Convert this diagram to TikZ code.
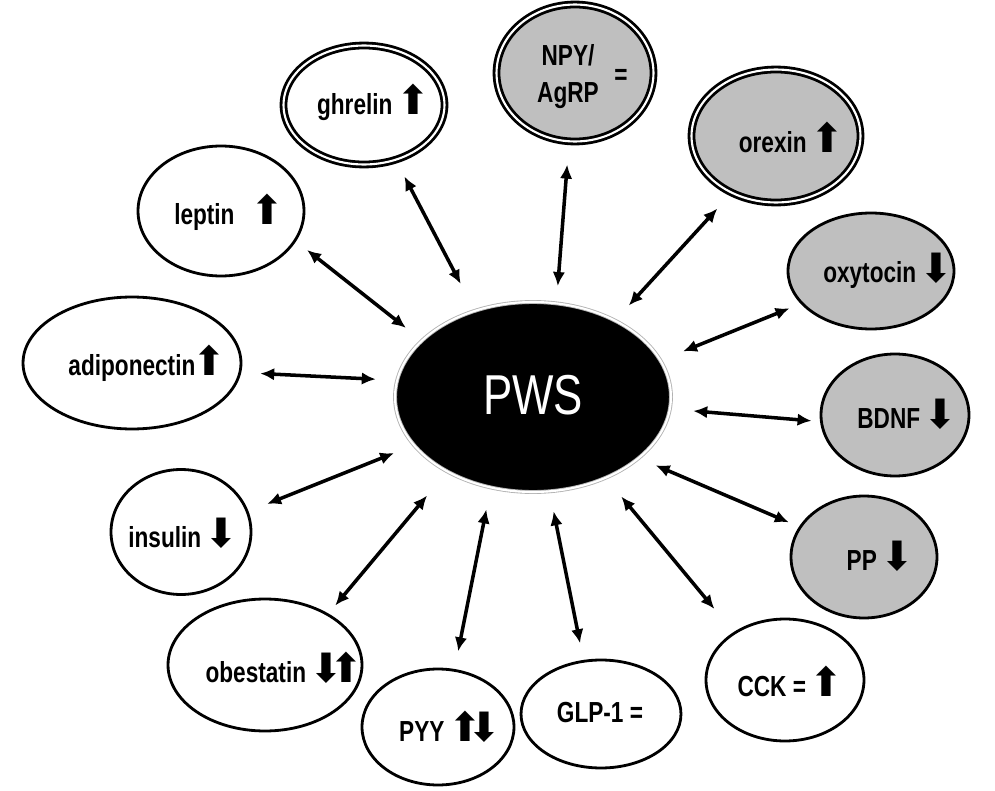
\documentclass[tikz,border=0pt]{standalone}
\usepackage{fontspec}
\setmainfont{Liberation Sans}
\newfontfamily\lblfont{Liberation Sans}[FakeStretch=0.78]
\newfontfamily\arrfont{DejaVu Sans}
\usetikzlibrary{shapes.geometric,arrows.meta,shadows}

\newcommand{\uparr}{{\arrfont\mdseries\fontsize{23}{23}\selectfont\kern-1.5pt⬆\kern-4pt}}
\newcommand{\dnarr}{{\arrfont\mdseries\fontsize{23}{23}\selectfont\kern-1.5pt⬇\kern-4pt}}

\begin{document}
\begin{tikzpicture}[x=0.02cm, y=-0.02cm,
    hormone/.style={ellipse, draw, line width=1.6pt, fill=white, inner sep=0pt},
    brain/.style={hormone, fill=gray!50},
    ring/.style={ellipse, draw, line width=1.6pt, double=white, double distance=1.2pt,
        inner sep=0pt, drop shadow={opacity=.35, shadow xshift=1.5pt, shadow yshift=-1.5pt}},
    lbl/.style={font=\lblfont\bfseries\fontsize{16.5}{21}\selectfont, inner sep=0pt, align=center},
    conn/.style={{Latex[length=0.28cm,width=0.25cm]}-{Latex[length=0.28cm,width=0.25cm]}, line width=2pt}]
    \useasboundingbox (0,0) rectangle (995,791);

    % centre
    \node[ellipse, fill=black, draw=gray!60, line width=0.5pt, double=white, double distance=1.2pt,
        minimum width=5.52cm, minimum height=3.8cm] (pws) at (533,397) {};
    \node[font=\lblfont\fontsize{32}{34}\selectfont, text=white, inner sep=0pt] (pwsT) at (533,395) {PWS};

    % double rings
    \node[ring, fill=white, minimum width=3.22cm, minimum height=2.38cm] (ghrelin) at (364,105) {};
    \node[ring, fill=gray!50, minimum width=3.14cm, minimum height=2.74cm] (npy) at (575,73) {};
    \node[ring, fill=gray!50, minimum width=3.38cm, minimum height=2.66cm] (orexin) at (776,136) {};

    % grey ones
    \node[brain, minimum width=3.32cm, minimum height=2.32cm] (oxytocin) at (871,271) {};
    \node[brain, minimum width=2.96cm, minimum height=2.44cm] (bdnf) at (895,415) {};
    \node[brain, minimum width=2.92cm, minimum height=2.44cm] (pp) at (864,557) {};

    % white ones
    \node[hormone, minimum width=3.32cm, minimum height=2.6cm] (leptin) at (221,211) {};
    \node[hormone, minimum width=4.36cm, minimum height=2.64cm] (adiponectin) at (132,363) {};
    \node[hormone, minimum width=2.8cm, minimum height=2.5cm] (insulin) at (181,532) {};
    \node[hormone, minimum width=3.88cm, minimum height=2.64cm] (obestatin) at (265,665) {};
    \node[hormone, minimum width=3.04cm, minimum height=2.32cm] (pyy) at (438,727) {};
    \node[hormone, minimum width=3.2cm, minimum height=2.16cm] (glp) at (601,714) {};
    \node[hormone, minimum width=3.16cm, minimum height=2.44cm] (cck) at (785,680) {};

    % labels
    \node[lbl] (ghrelinT) at (370,102) {ghrelin \uparr};
    \node[lbl] (npyT) at (568,77) {NPY/\\AgRP};
    \node[lbl] (npyEq) at (621,77) {=};
    \node[lbl] (orexinT) at (788,137) {orexin \uparr};
    \node[lbl] (oxytocinT) at (885,271) {oxytocin \dnarr};
    \node[lbl] (bdnfT) at (904,414) {BDNF \dnarr};
    \node[lbl] (ppT) at (877,556) {PP \dnarr};
    \node[lbl] (leptinT) at (226,212) {leptin\hspace{0.38cm}\uparr};
    \node[lbl] (adiponectinT) at (144,363) {adiponectin\uparr};
    \node[lbl] (insulinT) at (180,533) {insulin \dnarr};
    \node[lbl] (obestatinT) at (281,668) {obestatin \dnarr\kern-2.5pt\uparr};
    \node[lbl] (pyyT) at (447,727) {PYY \uparr\kern-2.5pt\dnarr};
    \node[lbl] (glpT) at (600,713) {GLP-1 =};
    \node[lbl] (cckT) at (787,681) {CCK = \uparr};

    % connections to PWS
    \draw[conn, shorten <=0.35cm, shorten >=0.6cm] (ghrelin.-60) -- (pws.124);
    \draw[conn, shorten <=0.44cm, shorten >=0.34cm] (npy.-95) -- (pws.76);
    \draw[conn, shorten <=0.4cm, shorten >=0.4cm] (orexin.-128) -- (pws.43);
    \draw[conn, shorten <=0.28cm, shorten >=0.4cm] (leptin.-22) -- (pws.153);
    \draw[conn, shorten <=0.24cm, shorten >=0.48cm] (oxytocin.205) -- (pws.16);
    \draw[conn, shorten <=0.38cm, shorten >=0.42cm] (adiponectin.-5) -- (pws.173);
    \draw[conn, shorten <=0.17cm, shorten >=0.46cm] (bdnf.185) -- (pws.-5);
    \draw[conn, shorten <=0.4cm, shorten >=0.42cm] (insulin.17) -- (pws.202);
    \draw[conn, shorten <=0.22cm, shorten >=0.36cm] (pp.155) -- (pws.-30);
    \draw[conn, shorten <=0.21cm, shorten >=0.62cm] (obestatin.39) -- (pws.221);
    \draw[conn, shorten <=0.36cm, shorten >=0.44cm] (pyy.74) -- (pws.245);
    \draw[conn, shorten <=0.34cm, shorten >=0.4cm] (glp.108) -- (pws.-80);
    \draw[conn, shorten <=0.6cm, shorten >=0.48cm] (cck.137) -- (pws.-48);
\end{tikzpicture}
\end{document}
